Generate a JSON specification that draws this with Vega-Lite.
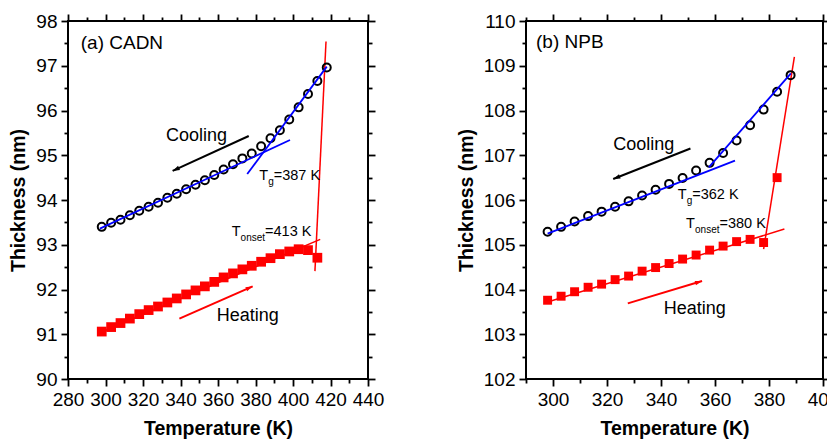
{
  "$schema": "https://vega.github.io/schema/vega-lite/v6.json",
  "padding": {"left": 7, "top": 11, "right": 0, "bottom": 0},
  "spacing": 70,
  "config": {
    "font": "Liberation Sans",
    "view": {"stroke": "black", "strokeWidth": 2},
    "axis": {"domain": false, "grid": false, "tickColor": "black", "tickWidth": 1.8, "labelFont": "Liberation Sans", "labelFontSize": 19, "labelColor": "black", "titleFont": "Liberation Sans", "titleFontSize": 19.5, "titleFontWeight": "bold", "titleColor": "black", "labelFlush": false, "labelOverlap": false, "offset": 0}
  },
  "datasets": {
    "a_cool": [
      {"T": 298, "v": 93.40}, {"T": 303, "v": 93.49}, {"T": 308, "v": 93.56}, {"T": 313, "v": 93.66}, {"T": 318, "v": 93.76},
      {"T": 323, "v": 93.85}, {"T": 328, "v": 93.94}, {"T": 333, "v": 94.05}, {"T": 338, "v": 94.14}, {"T": 343, "v": 94.24},
      {"T": 348, "v": 94.34}, {"T": 353, "v": 94.44}, {"T": 358, "v": 94.56}, {"T": 363, "v": 94.68}, {"T": 368, "v": 94.80},
      {"T": 373, "v": 94.93}, {"T": 378, "v": 95.04}, {"T": 383, "v": 95.20}, {"T": 388, "v": 95.38}, {"T": 393, "v": 95.56},
      {"T": 398, "v": 95.80}, {"T": 403, "v": 96.07}, {"T": 408, "v": 96.37}, {"T": 413, "v": 96.66}, {"T": 418, "v": 96.96}
    ],
    "a_heat": [
      {"T": 298, "v": 91.06}, {"T": 303, "v": 91.16}, {"T": 308, "v": 91.25}, {"T": 313, "v": 91.35}, {"T": 318, "v": 91.45},
      {"T": 323, "v": 91.54}, {"T": 328, "v": 91.62}, {"T": 333, "v": 91.71}, {"T": 338, "v": 91.80}, {"T": 343, "v": 91.89},
      {"T": 348, "v": 91.98}, {"T": 353, "v": 92.07}, {"T": 358, "v": 92.17}, {"T": 363, "v": 92.27}, {"T": 368, "v": 92.36},
      {"T": 373, "v": 92.45}, {"T": 378, "v": 92.53}, {"T": 383, "v": 92.62}, {"T": 388, "v": 92.70}, {"T": 393, "v": 92.79},
      {"T": 398, "v": 92.85}, {"T": 403, "v": 92.90}, {"T": 408, "v": 92.88}, {"T": 413, "v": 92.71}
    ],
    "a_blue": [
      {"seg": "glass", "T": 297, "v": 93.36}, {"seg": "glass", "T": 398.4, "v": 95.34},
      {"seg": "melt", "T": 375.6, "v": 94.58}, {"seg": "melt", "T": 418, "v": 96.98}
    ],
    "a_red": [
      {"seg": "heat", "T": 298, "v": 91.05}, {"seg": "heat", "T": 414.5, "v": 93.12},
      {"seg": "onset", "T": 411.7, "v": 92.41}, {"seg": "onset", "T": 417.6, "v": 97.54}
    ],
    "a_arrow_cool": [{"T1": 376.4, "v1": 95.43, "T2": 335.8, "v2": 94.65}],
    "a_arrow_heat": [{"T1": 339.4, "v1": 91.35, "T2": 378.5, "v2": 92.07}],
    "a_labels": [
      {"T": 286.8, "v": 97.51, "text": "(a) CADN", "kind": "title"},
      {"T": 332.3, "v": 95.42, "text": "Cooling", "kind": "dir"},
      {"T": 359.3, "v": 91.40, "text": "Heating", "kind": "dir"}
    ],
    "a_tg": [{"T": 382.0, "v": 94.44, "main": "T", "sub": "g", "rest": "=387 K"}],
    "a_on": [{"T": 367.3, "v": 93.19, "main": "T", "sub": "onset", "rest": "=413 K"}],
    "b_cool": [
      {"T": 298, "v": 105.29}, {"T": 303, "v": 105.40}, {"T": 308, "v": 105.52}, {"T": 313, "v": 105.64}, {"T": 318, "v": 105.74},
      {"T": 323, "v": 105.85}, {"T": 328, "v": 105.97}, {"T": 333, "v": 106.10}, {"T": 338, "v": 106.23}, {"T": 343, "v": 106.36},
      {"T": 348, "v": 106.49}, {"T": 353, "v": 106.66}, {"T": 358, "v": 106.83}, {"T": 363, "v": 107.05}, {"T": 368, "v": 107.33},
      {"T": 373, "v": 107.67}, {"T": 378, "v": 108.02}, {"T": 383, "v": 108.42}, {"T": 388, "v": 108.79}
    ],
    "b_heat": [
      {"T": 298, "v": 103.76}, {"T": 303, "v": 103.85}, {"T": 308, "v": 103.95}, {"T": 313, "v": 104.05}, {"T": 318, "v": 104.12},
      {"T": 323, "v": 104.22}, {"T": 328, "v": 104.30}, {"T": 333, "v": 104.41}, {"T": 338, "v": 104.49}, {"T": 343, "v": 104.58},
      {"T": 348, "v": 104.68}, {"T": 353, "v": 104.77}, {"T": 358, "v": 104.88}, {"T": 363, "v": 104.97}, {"T": 368, "v": 105.07},
      {"T": 373, "v": 105.12}, {"T": 378, "v": 105.05}, {"T": 383, "v": 106.50}
    ],
    "b_blue": [
      {"seg": "glass", "T": 298, "v": 105.25}, {"seg": "glass", "T": 367.4, "v": 106.88},
      {"seg": "melt", "T": 357.7, "v": 106.73}, {"seg": "melt", "T": 388.1, "v": 108.83}
    ],
    "b_red": [
      {"seg": "heat", "T": 298, "v": 103.72}, {"seg": "heat", "T": 385.7, "v": 105.35},
      {"seg": "onset", "T": 378.0, "v": 104.90}, {"seg": "onset", "T": 389.4, "v": 109.20}
    ],
    "b_arrow_cool": [{"T1": 350.9, "v1": 107.15, "T2": 322.3, "v2": 106.47}],
    "b_arrow_heat": [{"T1": 327.7, "v1": 103.69, "T2": 355.2, "v2": 104.19}],
    "b_labels": [
      {"T": 293.7, "v": 109.52, "text": "(b) NPB", "kind": "title"},
      {"T": 322.3, "v": 107.22, "text": "Cooling", "kind": "dir"},
      {"T": 341.0, "v": 103.56, "text": "Heating", "kind": "dir"}
    ],
    "b_tg": [{"T": 346.2, "v": 106.02, "main": "T", "sub": "g", "rest": "=362 K"}],
    "b_on": [{"T": 349.3, "v": 105.37, "main": "T", "sub": "onset", "rest": "=380 K"}]
  },
  "hconcat": [
    {
      "width": 300, "height": 358,
      "resolve": {"axis": {"x": "independent", "y": "independent"}},
      "layer": [
        {
          "data": {"name": "a_heat"},
          "mark": {"type": "point", "shape": "square", "filled": true, "color": "#ff0000", "size": 95, "opacity": 1},
          "encoding": {
            "x": {"field": "T", "type": "quantitative", "scale": {"domain": [280, 440], "nice": false, "zero": false},
                  "axis": {"orient": "bottom", "values": [280, 300, 320, 340, 360, 380, 400, 420, 440], "tickSize": 7, "labelPadding": 4, "title": "Temperature (K)", "titlePadding": 10, "offset": 0}},
            "y": {"field": "v", "type": "quantitative", "scale": {"domain": [90, 98], "nice": false, "zero": false},
                  "axis": {"orient": "left", "values": [90, 91, 92, 93, 94, 95, 96, 97, 98], "tickSize": 7, "labelPadding": 4, "title": "Thickness (nm)", "titlePadding": 7, "offset": 0}}
          }
        },
        {
          "data": {"name": "a_red"},
          "mark": {"type": "line", "color": "#ff0000", "strokeWidth": 1.5},
          "encoding": {
            "x": {"field": "T", "type": "quantitative", "axis": {"orient": "bottom", "values": [290, 310, 330, 350, 370, 390, 410, 430], "tickSize": 4, "labels": false, "title": null, "offset": 0}},
            "y": {"field": "v", "type": "quantitative", "axis": {"orient": "left", "values": [90.5, 91.5, 92.5, 93.5, 94.5, 95.5, 96.5, 97.5], "tickSize": 4, "labels": false, "title": null, "offset": 0}},
            "detail": {"field": "seg"}
          }
        },
        {
          "data": {"name": "a_cool"},
          "mark": {"type": "point", "shape": "circle", "filled": false, "color": "black", "strokeWidth": 2, "size": 64, "opacity": 1},
          "encoding": {
            "x": {"field": "T", "type": "quantitative", "axis": {"orient": "top", "values": [280, 300, 320, 340, 360, 380, 400, 420, 440], "tickSize": 7, "labels": false, "title": null, "offset": 0}},
            "y": {"field": "v", "type": "quantitative", "axis": {"orient": "right", "values": [90, 91, 92, 93, 94, 95, 96, 97, 98], "tickSize": 7, "labels": false, "title": null, "offset": 0}}
          }
        },
        {
          "data": {"name": "a_blue"},
          "mark": {"type": "line", "color": "#0000ff", "strokeWidth": 1.8},
          "encoding": {
            "x": {"field": "T", "type": "quantitative", "axis": {"orient": "top", "values": [290, 310, 330, 350, 370, 390, 410, 430], "tickSize": 4, "labels": false, "title": null, "offset": 0}},
            "y": {"field": "v", "type": "quantitative", "axis": {"orient": "right", "values": [90.5, 91.5, 92.5, 93.5, 94.5, 95.5, 96.5, 97.5], "tickSize": 4, "labels": false, "title": null, "offset": 0}},
            "detail": {"field": "seg"}
          }
        },
        {
          "data": {"name": "a_arrow_cool"},
          "mark": {"type": "rule", "color": "black", "strokeWidth": 2},
          "encoding": {
            "x": {"field": "T1", "type": "quantitative", "axis": null}, "y": {"field": "v1", "type": "quantitative", "axis": null},
            "x2": {"field": "T2"}, "y2": {"field": "v2"}
          }
        },
        {
          "data": {"name": "a_arrow_cool"},
          "mark": {"type": "point", "shape": "M0,0L-0.32,1L0.32,1Z", "filled": true, "color": "black", "size": 200, "angle": 245, "opacity": 1},
          "encoding": {"x": {"field": "T2", "type": "quantitative", "axis": null}, "y": {"field": "v2", "type": "quantitative", "axis": null}}
        },
        {
          "data": {"name": "a_arrow_heat"},
          "mark": {"type": "rule", "color": "#ff0000", "strokeWidth": 2},
          "encoding": {
            "x": {"field": "T1", "type": "quantitative", "axis": null}, "y": {"field": "v1", "type": "quantitative", "axis": null},
            "x2": {"field": "T2"}, "y2": {"field": "v2"}
          }
        },
        {
          "data": {"name": "a_arrow_heat"},
          "mark": {"type": "point", "shape": "M0,0L-0.32,1L0.32,1Z", "filled": true, "color": "#ff0000", "size": 200, "angle": 66, "opacity": 1},
          "encoding": {"x": {"field": "T2", "type": "quantitative", "axis": null}, "y": {"field": "v2", "type": "quantitative", "axis": null}}
        },
        {
          "data": {"name": "a_labels"},
          "transform": [{"filter": "datum.kind == 'title'"}],
          "mark": {"type": "text", "align": "left", "baseline": "middle", "fontSize": 19, "color": "black"},
          "encoding": {"x": {"field": "T", "type": "quantitative", "axis": null}, "y": {"field": "v", "type": "quantitative", "axis": null}, "text": {"field": "text"}}
        },
        {
          "data": {"name": "a_labels"},
          "transform": [{"filter": "datum.kind == 'dir'"}],
          "mark": {"type": "text", "align": "left", "baseline": "middle", "fontSize": 18, "color": "black"},
          "encoding": {"x": {"field": "T", "type": "quantitative", "axis": null}, "y": {"field": "v", "type": "quantitative", "axis": null}, "text": {"field": "text"}}
        },
        {
          "data": {"name": "a_tg"},
          "mark": {"type": "text", "align": "left", "baseline": "alphabetic", "fontSize": 14.5, "color": "black"},
          "encoding": {"x": {"field": "T", "type": "quantitative", "axis": null}, "y": {"field": "v", "type": "quantitative", "axis": null}, "text": {"field": "main"}}
        },
        {
          "data": {"name": "a_tg"},
          "mark": {"type": "text", "align": "left", "baseline": "alphabetic", "fontSize": 10, "dx": 8.9, "dy": 5, "color": "black"},
          "encoding": {"x": {"field": "T", "type": "quantitative", "axis": null}, "y": {"field": "v", "type": "quantitative", "axis": null}, "text": {"field": "sub"}}
        },
        {
          "data": {"name": "a_tg"},
          "mark": {"type": "text", "align": "left", "baseline": "alphabetic", "fontSize": 14.5, "dx": 14.5, "color": "black"},
          "encoding": {"x": {"field": "T", "type": "quantitative", "axis": null}, "y": {"field": "v", "type": "quantitative", "axis": null}, "text": {"field": "rest"}}
        },
        {
          "data": {"name": "a_on"},
          "mark": {"type": "text", "align": "left", "baseline": "alphabetic", "fontSize": 14.5, "color": "black"},
          "encoding": {"x": {"field": "T", "type": "quantitative", "axis": null}, "y": {"field": "v", "type": "quantitative", "axis": null}, "text": {"field": "main"}}
        },
        {
          "data": {"name": "a_on"},
          "mark": {"type": "text", "align": "left", "baseline": "alphabetic", "fontSize": 10, "dx": 8.9, "dy": 5, "color": "black"},
          "encoding": {"x": {"field": "T", "type": "quantitative", "axis": null}, "y": {"field": "v", "type": "quantitative", "axis": null}, "text": {"field": "sub"}}
        },
        {
          "data": {"name": "a_on"},
          "mark": {"type": "text", "align": "left", "baseline": "alphabetic", "fontSize": 14.5, "dx": 33.4, "color": "black"},
          "encoding": {"x": {"field": "T", "type": "quantitative", "axis": null}, "y": {"field": "v", "type": "quantitative", "axis": null}, "text": {"field": "rest"}}
        }
      ]
    },
    {
      "width": 297, "height": 358,
      "resolve": {"axis": {"x": "independent", "y": "independent"}},
      "layer": [
        {
          "data": {"name": "b_heat"},
          "mark": {"type": "point", "shape": "square", "filled": true, "color": "#ff0000", "size": 80, "opacity": 1},
          "encoding": {
            "x": {"field": "T", "type": "quantitative", "scale": {"domain": [290, 400], "nice": false, "zero": false},
                  "axis": {"orient": "bottom", "values": [300, 320, 340, 360, 380, 400], "tickSize": 7, "labelPadding": 4, "title": "Temperature (K)", "titlePadding": 10, "offset": 0}},
            "y": {"field": "v", "type": "quantitative", "scale": {"domain": [102, 110], "nice": false, "zero": false},
                  "axis": {"orient": "left", "values": [102, 103, 104, 105, 106, 107, 108, 109, 110], "tickSize": 7, "labelPadding": 4, "title": "Thickness (nm)", "titlePadding": 7, "offset": 0}}
          }
        },
        {
          "data": {"name": "b_red"},
          "mark": {"type": "line", "color": "#ff0000", "strokeWidth": 1.5},
          "encoding": {
            "x": {"field": "T", "type": "quantitative", "axis": {"orient": "bottom", "values": [290, 310, 330, 350, 370, 390], "tickSize": 4, "labels": false, "title": null, "offset": 0}},
            "y": {"field": "v", "type": "quantitative", "axis": {"orient": "left", "values": [102.5, 103.5, 104.5, 105.5, 106.5, 107.5, 108.5, 109.5], "tickSize": 4, "labels": false, "title": null, "offset": 0}},
            "detail": {"field": "seg"}
          }
        },
        {
          "data": {"name": "b_cool"},
          "mark": {"type": "point", "shape": "circle", "filled": false, "color": "black", "strokeWidth": 2, "size": 64, "opacity": 1},
          "encoding": {
            "x": {"field": "T", "type": "quantitative", "axis": {"orient": "top", "values": [300, 320, 340, 360, 380, 400], "tickSize": 7, "labels": false, "title": null, "offset": 0}},
            "y": {"field": "v", "type": "quantitative", "axis": {"orient": "right", "values": [102, 103, 104, 105, 106, 107, 108, 109, 110], "tickSize": 7, "labels": false, "title": null, "offset": 0}}
          }
        },
        {
          "data": {"name": "b_blue"},
          "mark": {"type": "line", "color": "#0000ff", "strokeWidth": 1.8},
          "encoding": {
            "x": {"field": "T", "type": "quantitative", "axis": {"orient": "top", "values": [290, 310, 330, 350, 370, 390], "tickSize": 4, "labels": false, "title": null, "offset": 0}},
            "y": {"field": "v", "type": "quantitative", "axis": {"orient": "right", "values": [102.5, 103.5, 104.5, 105.5, 106.5, 107.5, 108.5, 109.5], "tickSize": 4, "labels": false, "title": null, "offset": 0}},
            "detail": {"field": "seg"}
          }
        },
        {
          "data": {"name": "b_arrow_cool"},
          "mark": {"type": "rule", "color": "black", "strokeWidth": 2},
          "encoding": {
            "x": {"field": "T1", "type": "quantitative", "axis": null}, "y": {"field": "v1", "type": "quantitative", "axis": null},
            "x2": {"field": "T2"}, "y2": {"field": "v2"}
          }
        },
        {
          "data": {"name": "b_arrow_cool"},
          "mark": {"type": "point", "shape": "M0,0L-0.32,1L0.32,1Z", "filled": true, "color": "black", "size": 200, "angle": 249, "opacity": 1},
          "encoding": {"x": {"field": "T2", "type": "quantitative", "axis": null}, "y": {"field": "v2", "type": "quantitative", "axis": null}}
        },
        {
          "data": {"name": "b_arrow_heat"},
          "mark": {"type": "rule", "color": "#ff0000", "strokeWidth": 2},
          "encoding": {
            "x": {"field": "T1", "type": "quantitative", "axis": null}, "y": {"field": "v1", "type": "quantitative", "axis": null},
            "x2": {"field": "T2"}, "y2": {"field": "v2"}
          }
        },
        {
          "data": {"name": "b_arrow_heat"},
          "mark": {"type": "point", "shape": "M0,0L-0.32,1L0.32,1Z", "filled": true, "color": "#ff0000", "size": 200, "angle": 73, "opacity": 1},
          "encoding": {"x": {"field": "T2", "type": "quantitative", "axis": null}, "y": {"field": "v2", "type": "quantitative", "axis": null}}
        },
        {
          "data": {"name": "b_labels"},
          "transform": [{"filter": "datum.kind == 'title'"}],
          "mark": {"type": "text", "align": "left", "baseline": "middle", "fontSize": 19, "color": "black"},
          "encoding": {"x": {"field": "T", "type": "quantitative", "axis": null}, "y": {"field": "v", "type": "quantitative", "axis": null}, "text": {"field": "text"}}
        },
        {
          "data": {"name": "b_labels"},
          "transform": [{"filter": "datum.kind == 'dir'"}],
          "mark": {"type": "text", "align": "left", "baseline": "middle", "fontSize": 18, "color": "black"},
          "encoding": {"x": {"field": "T", "type": "quantitative", "axis": null}, "y": {"field": "v", "type": "quantitative", "axis": null}, "text": {"field": "text"}}
        },
        {
          "data": {"name": "b_tg"},
          "mark": {"type": "text", "align": "left", "baseline": "alphabetic", "fontSize": 14.5, "color": "black"},
          "encoding": {"x": {"field": "T", "type": "quantitative", "axis": null}, "y": {"field": "v", "type": "quantitative", "axis": null}, "text": {"field": "main"}}
        },
        {
          "data": {"name": "b_tg"},
          "mark": {"type": "text", "align": "left", "baseline": "alphabetic", "fontSize": 10, "dx": 8.9, "dy": 5, "color": "black"},
          "encoding": {"x": {"field": "T", "type": "quantitative", "axis": null}, "y": {"field": "v", "type": "quantitative", "axis": null}, "text": {"field": "sub"}}
        },
        {
          "data": {"name": "b_tg"},
          "mark": {"type": "text", "align": "left", "baseline": "alphabetic", "fontSize": 14.5, "dx": 14.5, "color": "black"},
          "encoding": {"x": {"field": "T", "type": "quantitative", "axis": null}, "y": {"field": "v", "type": "quantitative", "axis": null}, "text": {"field": "rest"}}
        },
        {
          "data": {"name": "b_on"},
          "mark": {"type": "text", "align": "left", "baseline": "alphabetic", "fontSize": 14.5, "color": "black"},
          "encoding": {"x": {"field": "T", "type": "quantitative", "axis": null}, "y": {"field": "v", "type": "quantitative", "axis": null}, "text": {"field": "main"}}
        },
        {
          "data": {"name": "b_on"},
          "mark": {"type": "text", "align": "left", "baseline": "alphabetic", "fontSize": 10, "dx": 8.9, "dy": 5, "color": "black"},
          "encoding": {"x": {"field": "T", "type": "quantitative", "axis": null}, "y": {"field": "v", "type": "quantitative", "axis": null}, "text": {"field": "sub"}}
        },
        {
          "data": {"name": "b_on"},
          "mark": {"type": "text", "align": "left", "baseline": "alphabetic", "fontSize": 14.5, "dx": 33.4, "color": "black"},
          "encoding": {"x": {"field": "T", "type": "quantitative", "axis": null}, "y": {"field": "v", "type": "quantitative", "axis": null}, "text": {"field": "rest"}}
        }
      ]
    }
  ]
}
